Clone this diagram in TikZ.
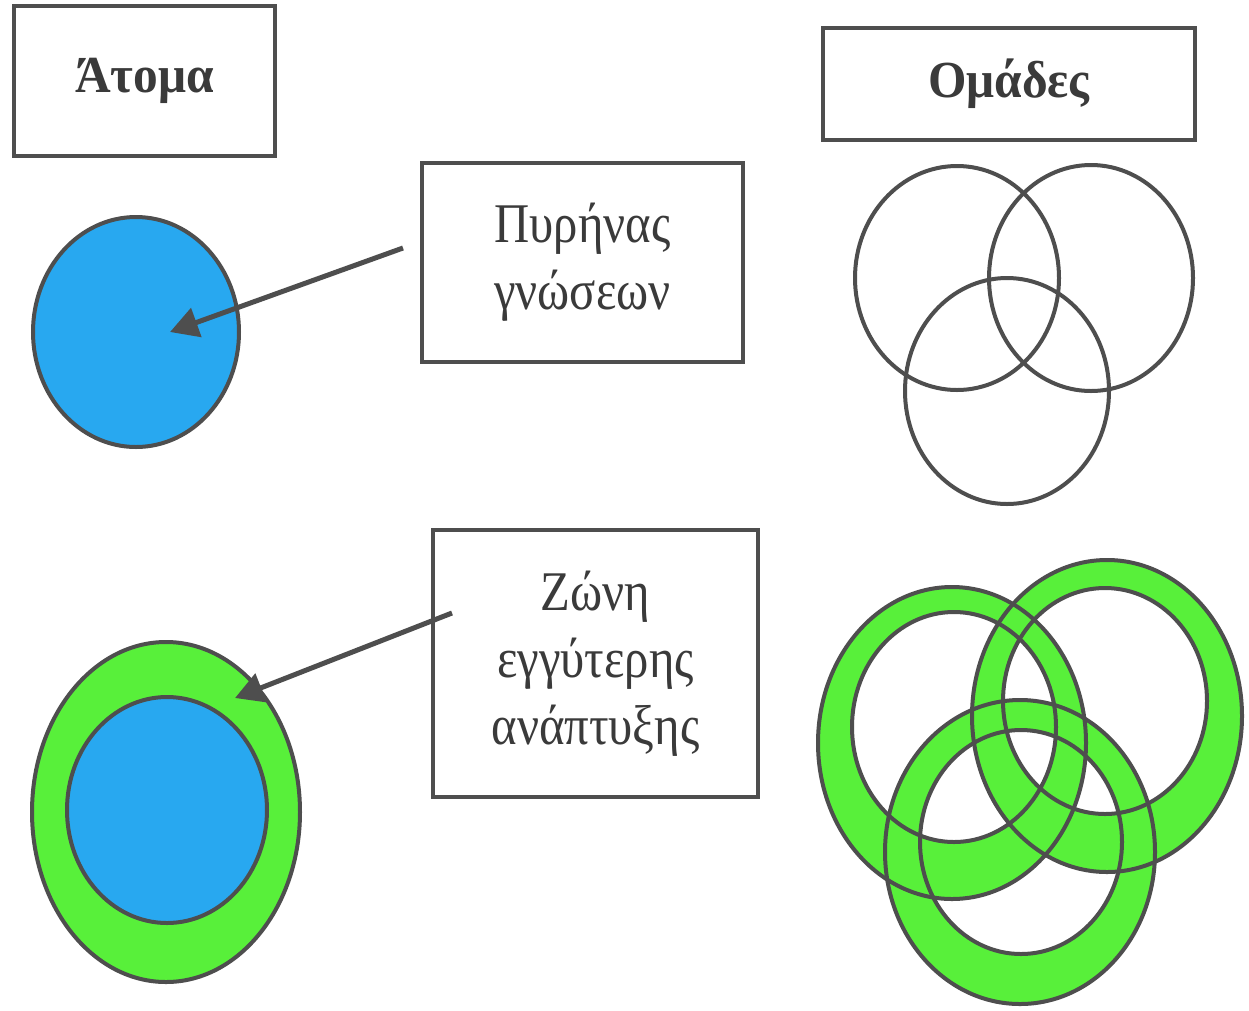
\documentclass[tikz,border=0pt]{standalone}
\usepackage{fontspec}
\setmainfont{Liberation Serif}
\newfontfamily\notefont[FakeStretch=0.87]{Liberation Serif}
\newfontfamily\titlefont[FakeStretch=0.95]{Liberation Serif}
\usetikzlibrary{arrows.meta}
\definecolor{lineg}{RGB}{78,78,78}
\definecolor{txt}{RGB}{58,58,58}
\definecolor{coreblue}{RGB}{40,168,240}
\definecolor{zonegreen}{RGB}{88,240,58}
\begin{document}
\begin{tikzpicture}[x=1pt, y=-1pt,
  labelbox/.style={draw=lineg, line width=4.5pt, text=txt, align=center, inner sep=0pt},
  titlebox/.style={labelbox, font=\titlefont\fontsize{52}{60}\selectfont\bfseries},
  notebox/.style={labelbox, font=\notefont\fontsize{56}{67}\selectfont},
  outline/.style={draw=lineg, line width=4pt},
  pointer/.style={draw=lineg, line width=5pt, -{Triangle[length=28pt,width=30pt]}}]
\useasboundingbox (0,0) rectangle (1249,1010);
\fill[white] (0,0) rectangle (1249,1010);

% titles
\node[titlebox, minimum width=261pt, minimum height=150pt] (atoma) at (144.5,81) {Άτομα};
\node[titlebox, minimum width=372pt, minimum height=112pt] (omades) at (1009,84) {Ομάδες};

% label boxes
\node[notebox, minimum width=321pt, minimum height=199pt] (pyrinas) at (582.5,262.5) {Πυρήνας\\γνώσεων};
\node[notebox, minimum width=325pt, minimum height=267pt] (zoni) at (595.5,663.5) {Ζώνη\\εγγύτερης\\ανάπτυξης};

% individual: core of knowledge
\draw[outline, fill=coreblue] (136,332) ellipse [x radius=103pt, y radius=115pt];
\coordinate (core) at (170,332);

% individual: zone of proximal development
\draw[outline, fill=zonegreen] (166,812) ellipse [x radius=134pt, y radius=170pt];
\draw[outline, fill=coreblue] (167,810) ellipse [x radius=100pt, y radius=113pt];
\coordinate (zone) at (235,698);

% pointers
\coordinate (ptail) at (403,248);
\coordinate (ztail) at (452,613);
\draw[pointer] (ptail) -- (core);
\draw[pointer] (ztail) -- (zone);

% groups: plain circles
\draw[outline] (957,278) ellipse [x radius=102pt, y radius=112pt];
\draw[outline] (1091,278) ellipse [x radius=102pt, y radius=113pt];
\draw[outline] (1007,391) ellipse [x radius=102pt, y radius=113pt];

% groups: green rings
\fill[zonegreen, even odd rule] (952,743) ellipse [x radius=134pt, y radius=156pt] (954,727) ellipse [x radius=102pt, y radius=115pt];
\fill[zonegreen, even odd rule] (1107,716) ellipse [x radius=135pt, y radius=156pt] (1105,701) ellipse [x radius=102pt, y radius=113pt];
\fill[zonegreen, even odd rule] (1020,852) ellipse [x radius=135pt, y radius=152pt] (1021,842) ellipse [x radius=101pt, y radius=112pt];
\draw[outline] (952,743) ellipse [x radius=134pt, y radius=156pt];
\draw[outline] (954,727) ellipse [x radius=102pt, y radius=115pt];
\draw[outline] (1107,716) ellipse [x radius=135pt, y radius=156pt];
\draw[outline] (1105,701) ellipse [x radius=102pt, y radius=113pt];
\draw[outline] (1020,852) ellipse [x radius=135pt, y radius=152pt];
\draw[outline] (1021,842) ellipse [x radius=101pt, y radius=112pt];
\end{tikzpicture}
\end{document}
